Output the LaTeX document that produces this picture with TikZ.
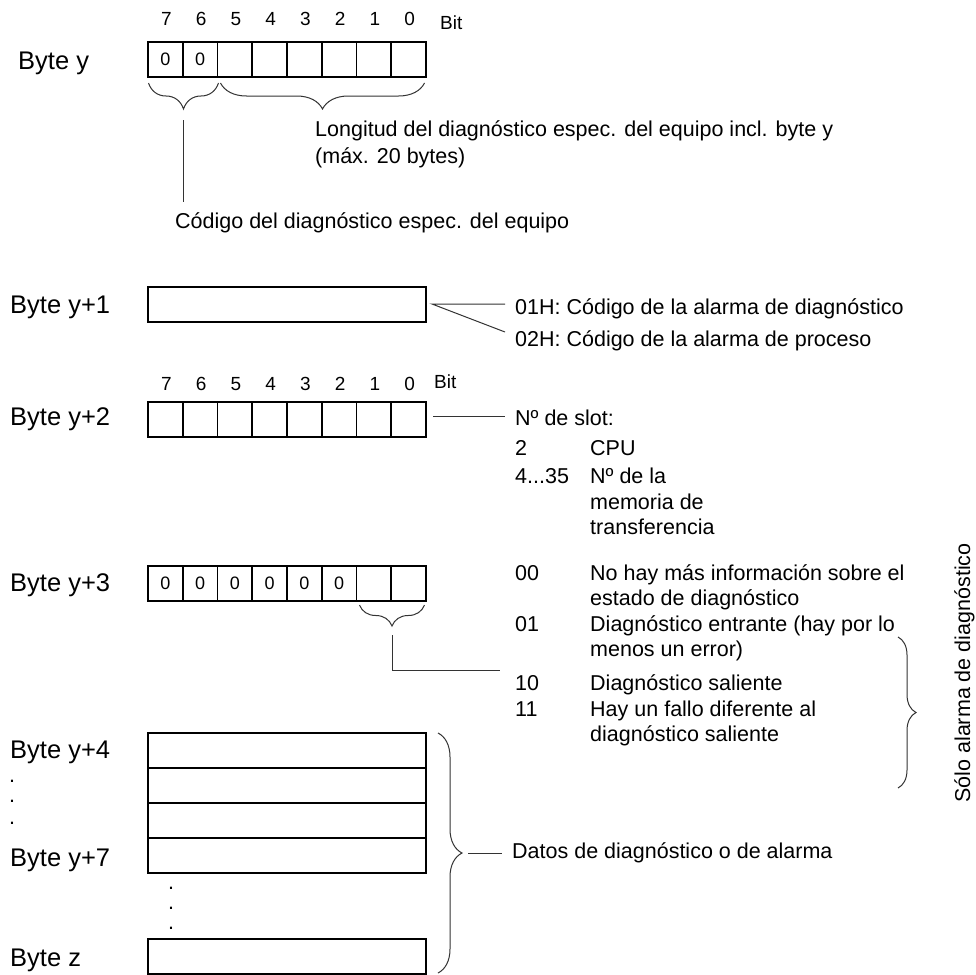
\documentclass[tikz,border=0pt]{standalone}
\usepackage{fontspec}
\setmainfont{Liberation Sans}
\usetikzlibrary{decorations.pathreplacing,calc}
\begin{document}
\begin{tikzpicture}[x=1pt,y=-1pt,
  cell/.style={draw=black, line width=1.7pt, minimum width=34.75pt, minimum height=35pt, inner sep=0pt, outer sep=0pt, font=\fontsize{18}{21}\selectfont},
  bytebox/.style={draw=black, line width=1.7pt, minimum width=278pt, minimum height=35pt, inner sep=0pt, outer sep=0pt},
  lbl/.style={anchor=base west, inner sep=0pt, font=\fontsize{25.5}{30}\selectfont},
  desc/.style={anchor=base west, inner sep=0pt, font=\fontsize{21.5}{26}\selectfont},
  bitnum/.style={anchor=base, inner sep=0pt, font=\fontsize{19}{22}\selectfont},
  bitlbl/.style={anchor=base west, inner sep=0pt, font=\fontsize{19}{22}\selectfont},
  leader/.style={line width=1pt, draw=black!80},
  bracedown/.style={line width=1pt, draw=black!80, decorate, decoration={brace, mirror, amplitude=#1}},
  braceright/.style={line width=1pt, draw=black!80, decorate, decoration={brace, amplitude=#1}},
]
\path[fill=white, use as bounding box] (0,0) rectangle (976,974);

% ---------------- Byte y ----------------
\node[lbl] (lby) at (18,69) {Byte y};
\foreach \i in {0,1} \node[cell] (a\i) at ({165.375+34.75*\i},59.5) {0};
\foreach \i in {2,...,7} \node[cell] (a\i) at ({165.375+34.75*\i},59.5) {};
\foreach \b [count=\i from 0] in {7,6,5,4,3,2,1,0} \node[bitnum] (na\i) at ({166.5+34.75*\i},26) {\b};
\node[bitlbl] (bita) at (440,30) {Bit};
\coordinate (bra1) at (148.5,83); \coordinate (bra2) at (218.5,83);
\coordinate (brb1) at (220.5,83); \coordinate (brb2) at (424.5,83);
\draw[bracedown=26] (bra1) -- (bra2);
\draw[bracedown=26] (brb1) -- (brb2);
\coordinate (ta) at (183.5,120); \coordinate (tb) at (183.5,202);
\draw[leader] (ta) -- (tb);
\node[desc] (tlong1) at (315,136) {Longitud del diagnóstico espec. del equipo incl. byte y};
\node[desc] (tlong2) at (315,163) {(máx. 20 bytes)};
\node[desc] (tcod) at (175,228) {Código del diagnóstico espec. del equipo};

% ---------------- Byte y+1 ----------------
\node[lbl] (lb1) at (10,313) {Byte y+1};
\node[bytebox] (b1) at (287,304.5) {};
\coordinate (b1o) at (432,304); \coordinate (b1a) at (505,304); \coordinate (b1b) at (505,332);
\draw[leader] (b1a) -- (b1o) -- (b1b);
\node[desc] (t01h) at (515,314) {01H: Código de la alarma de diagnóstico};
\node[desc] (t02h) at (515,346) {02H: Código de la alarma de proceso};

% ---------------- Byte y+2 ----------------
\node[lbl] (lb2) at (10,425) {Byte y+2};
\foreach \i in {0,...,7} \node[cell] (c\i) at ({165.375+34.75*\i},419.5) {};
\foreach \b [count=\i from 0] in {7,6,5,4,3,2,1,0} \node[bitnum] (nc\i) at ({166.5+34.75*\i},390) {\b};
\node[bitlbl] (bitc) at (434,388) {Bit};
\coordinate (c2o) at (433,416); \coordinate (c2a) at (505,416);
\draw[leader] (c2o) -- (c2a);
\node[desc] (tslot) at (515,425) {Nº de slot:};
\node[desc] (ts2) at (515,455) {2};
\node[desc] (tcpu) at (590,455) {CPU};
\node[desc] (ts4) at (515,483) {4...35};
\node[desc] (tnr1) at (590,483) {Nº de la};
\node[desc] (tnr2) at (590,509) {memoria de};
\node[desc] (tnr3) at (590,534) {transferencia};

% ---------------- Byte y+3 ----------------
\node[lbl] (lb3) at (10,591) {Byte y+3};
\foreach \i in {0,...,5} \node[cell] (d\i) at ({165.375+34.75*\i},583.5) {0};
\foreach \i in {6,7} \node[cell] (d\i) at ({165.375+34.75*\i},583.5) {};
\coordinate (brd1) at (359.5,605); \coordinate (brd2) at (424.5,605);
\draw[bracedown=21] (brd1) -- (brd2);
\coordinate (d3a) at (392,635); \coordinate (d3b) at (392,670); \coordinate (d3c) at (500,670);
\draw[leader] (d3a) -- (d3b) -- (d3c);
\node[desc] (s00) at (515,580) {00};
\node[desc] (s00t) at (590,580) {No hay más información sobre el};
\node[desc] (s00u) at (590,605) {estado de diagnóstico};
\node[desc] (s01) at (515,631) {01};
\node[desc] (s01t) at (590,631) {Diagnóstico entrante (hay por lo};
\node[desc] (s01u) at (590,656) {menos un error)};
\node[desc] (s10) at (515,690) {10};
\node[desc] (s10t) at (590,690) {Diagnóstico saliente};
\node[desc] (s11) at (515,716) {11};
\node[desc] (s11t) at (590,716) {Hay un fallo diferente al};
\node[desc] (s11u) at (590,741) {diagnóstico saliente};
\coordinate (brs1) at (898,637); \coordinate (brs2) at (898,788);
\draw[braceright=18] (brs1) -- (brs2);
\node[desc, rotate=90, anchor=base] (tsolo) at (970,673) {Sólo alarma de diagnóstico};

% ---------------- Byte y+4 ... z ----------------
\node[lbl] (lb4) at (10,758) {Byte y+4};
\node[lbl] (lb7) at (10,866) {Byte y+7};
\node[lbl] (lbz) at (10,966) {Byte z};
\foreach \k/\yy in {4/750.5,5/785.5,6/820.5,7/855.5} \node[bytebox] (e\k) at (287,\yy) {};
\node[bytebox] (ez) at (287,956.5) {};
\foreach \yy [count=\j] in {782,802,824} \node[desc] (dl\j) at (9,\yy) {.};
\foreach \yy [count=\j] in {889,909,929} \node[desc] (du\j) at (168,\yy) {.};
\coordinate (bre1) at (438,733); \coordinate (bre2) at (438,973);
\draw[braceright=24] (bre1) -- (bre2);
\coordinate (dta) at (468,853); \coordinate (dtb) at (502,853);
\draw[leader] (dta) -- (dtb);
\node[desc] (tdatos) at (512,858) {Datos de diagnóstico o de alarma};
\end{tikzpicture}
\end{document}
